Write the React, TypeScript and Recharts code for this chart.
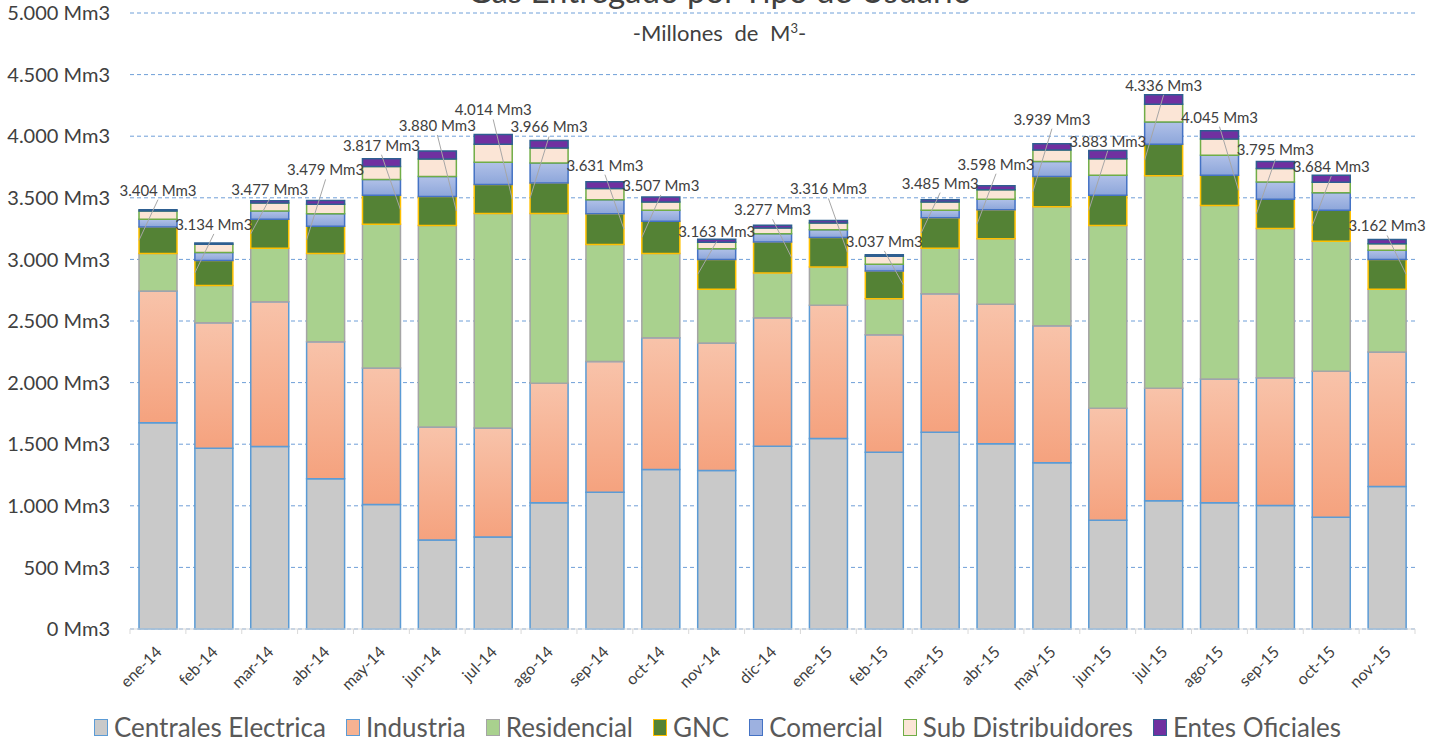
import { BarChart, Bar, XAxis, YAxis, CartesianGrid, Legend, LabelList } from 'recharts'

const months = [
  'ene-14', 'feb-14', 'mar-14', 'abr-14', 'may-14', 'jun-14', 'jul-14', 'ago-14',
  'sep-14', 'oct-14', 'nov-14', 'dic-14', 'ene-15', 'feb-15', 'mar-15', 'abr-15',
  'may-15', 'jun-15', 'jul-15', 'ago-15', 'sep-15', 'oct-15', 'nov-15',
]

// millones de m3 por mes
const centrales = [1674, 1468, 1481, 1219, 1010, 723, 746, 1025, 1110, 1294, 1286, 1484, 1546, 1435, 1598, 1503, 1350, 883, 1042, 1025, 1002, 907, 1156]
const industria = [1069, 1018, 1176, 1113, 1109, 917, 885, 969, 1062, 1070, 1035, 1043, 1081, 953, 1124, 1132, 1112, 908, 912, 1004, 1037, 1186, 1092]
const residencial = [304, 303, 433, 715, 1167, 1635, 1742, 1379, 948, 683, 436, 362, 311, 293, 368, 533, 966, 1484, 1724, 1408, 1211, 1054, 509]
const gnc = [216, 203, 235, 222, 235, 235, 235, 247, 251, 262, 243, 252, 239, 225, 249, 236, 244, 246, 256, 247, 238, 252, 243]
const comercial = [62, 65, 68, 102, 128, 162, 180, 163, 114, 90, 87, 68, 64, 54, 60, 84, 122, 163, 182, 162, 141, 143, 74]
const subDistribuidores = [68, 65, 65, 76, 105, 143, 146, 122, 90, 67, 52, 46, 55, 65, 67, 78, 93, 133, 143, 131, 108, 84, 54]
const entes = [11, 12, 19, 32, 63, 65, 80, 61, 56, 41, 24, 22, 20, 12, 19, 32, 52, 66, 77, 68, 58, 58, 34]
const totals = [3404, 3134, 3477, 3479, 3817, 3880, 4014, 3966, 3631, 3507, 3163, 3277, 3316, 3037, 3485, 3598, 3939, 3883, 4336, 4045, 3795, 3684, 3162]

const yTicks = [0, 500, 1000, 1500, 2000, 2500, 3000, 3500, 4000, 4500, 5000]

// label placement (px above bar top) and which side the leader line goes to
const labelLift = [19, 18, 11, 30, 13, 25, 24, 13, 16, 11, 7, 15, 31, 13, 16, 21, 24, 9, 9, 13, 11, 8, 13]
const leaderRight = [4, 5, 6, 8, 11, 12, 13, 19, 22]

const FONT = 'Lato, "Open Sans", sans-serif'

const series = [
  { key: 'centrales', name: 'Centrales Electrica', fill: '#C9C9C9', stroke: '#5B9BD5', css: '#C9C9C9' },
  { key: 'industria', name: 'Industria', fill: 'url(#gradInd)', stroke: '#5B9BD5', css: '#F6B292' },
  { key: 'residencial', name: 'Residencial', fill: '#A9D18E', stroke: '#A5A5A5', css: '#A9D18E' },
  { key: 'gnc', name: 'GNC', fill: '#548235', stroke: '#FFC000', css: '#548235' },
  { key: 'comercial', name: 'Comercial', fill: 'url(#gradCom)', stroke: '#4472C4', css: '#9DB1E0' },
  { key: 'subDistribuidores', name: 'Sub Distribuidores', fill: '#FBE5D6', stroke: '#70AD47', css: '#FBE5D6' },
  { key: 'entes', name: 'Entes Oficiales', fill: '#7030A0', stroke: '#2E5F91', css: '#7030A0' },
]

const data = months.map((month, i) => ({
  month,
  centrales: centrales[i],
  industria: industria[i],
  residencial: residencial[i],
  gnc: gnc[i],
  comercial: comercial[i],
  subDistribuidores: subDistribuidores[i],
  entes: entes[i],
}))

const fmt = (n: number) => String(n).replace(/\B(?=(\d{3})+(?!\d))/g, '.')

const MonthTick = (props: any) => {
  const { x, y, payload, index } = props
  const half = payload.offset || 27.9
  return (
    <g>
      <line x1={x - half} x2={x - half} y1={y} y2={y + 5} stroke="#D9D9D9" />
      {index === months.length - 1 && (
        <line x1={x + half} x2={x + half} y1={y} y2={y + 5} stroke="#D9D9D9" />
      )}
      <text
        x={x + 5}
        y={y + 24}
        textAnchor="end"
        transform={`rotate(-45 ${x + 5} ${y + 24})`}
        fontSize={16}
        fontFamily={FONT}
        fill="#404040"
      >
        {payload.value}
      </text>
    </g>
  )
}

const TotalLabel = (props: any) => {
  const { x, y, width, height, index } = props
  if (index == null || !height) return null
  const k = height / entes[index]
  const cx = x + width / 2
  const mid = y - labelLift[index]
  const gncMid = y + height + (subDistribuidores[index] + comercial[index] + gnc[index] / 2) * k
  const ex = leaderRight.includes(index) ? x + width : x
  return (
    <g>
      <line x1={cx} y1={mid + 9} x2={ex} y2={gncMid} stroke="#A6A6A6" strokeWidth={1} />
      <text x={cx} y={mid + 5} textAnchor="middle" fontSize={15} fontFamily={FONT} fill="#404040">
        {fmt(totals[index])} Mm3
      </text>
    </g>
  )
}

const renderLegend = () => (
  <div
    style={{
      display: 'flex',
      justifyContent: 'center',
      alignItems: 'center',
      height: 34,
      paddingLeft: 20,
      fontFamily: FONT,
      fontSize: 26,
      color: '#595959',
      gap: 20,
    }}
  >
    {series.map((s) => (
      <span key={s.key} style={{ display: 'flex', alignItems: 'center' }}>
        <span
          style={{
            display: 'inline-block',
            width: 12,
            height: 15,
            background: s.css,
            border: `1.5px solid ${s.stroke}`,
            marginRight: 6,
          }}
        />
        {s.name}
      </span>
    ))}
  </div>
)

export default function App() {
  return (
    <div style={{ position: 'absolute', top: 0, left: 0, width: 1439, height: 744, overflow: 'hidden', background: '#fff' }}>
      <div
        style={{
          position: 'absolute',
          top: -28,
          left: 0,
          width: 1439,
          textAlign: 'center',
          fontFamily: FONT,
          fontSize: 33,
          lineHeight: '36px',
          color: '#404040',
        }}
      >
        Gas Entregado por Tipo de Usuario
      </div>
      <div
        style={{
          position: 'absolute',
          top: 15,
          left: 0,
          width: 1439,
          textAlign: 'center',
          fontFamily: FONT,
          fontSize: 22,
          lineHeight: '26px',
          color: '#404040',
          wordSpacing: 6,
        }}
      >
        -Millones de M<sup style={{ fontSize: 13 }}>3</sup>-
      </div>
      <BarChart
        width={1439}
        height={744}
        data={data}
        margin={{ top: 13, right: 24, left: 0, bottom: 0 }}
        barSize={38}
      >
        <defs>
          <linearGradient id="gradInd" x1="0" y1="0" x2="0" y2="1">
            <stop offset="0%" stopColor="#F8C3AA" />
            <stop offset="100%" stopColor="#F5A27E" />
          </linearGradient>
          <linearGradient id="gradCom" x1="0" y1="0" x2="0" y2="1">
            <stop offset="0%" stopColor="#B1C1E8" />
            <stop offset="100%" stopColor="#8DA6DA" />
          </linearGradient>
        </defs>
        <CartesianGrid vertical={false} stroke="#6F9FD8" strokeDasharray="4 3" />
        <XAxis
          dataKey="month"
          interval={0}
          height={81}
          tickSize={0}
          tickMargin={0}
          tickLine={false}
          axisLine={{ stroke: '#D9D9D9' }}
          tick={<MonthTick />}
        />
        <YAxis
          width={130}
          domain={[0, 5000]}
          ticks={yTicks}
          interval={0}
          axisLine={false}
          tickLine={false}
          tickMargin={14}
          tickFormatter={(v) => `${fmt(v)} Mm3`}
          tick={{ fontSize: 20, fontFamily: FONT, fill: '#404040' }}
        />
        <Legend verticalAlign="bottom" content={renderLegend} />
        {series.map((s) => (
          <Bar
            key={s.key}
            dataKey={s.key}
            name={s.name}
            stackId="a"
            fill={s.fill}
            stroke={s.stroke}
            strokeWidth={1.5}
            isAnimationActive={false}
          >
            {s.key === 'entes' && <LabelList dataKey="entes" content={<TotalLabel />} />}
          </Bar>
        ))}
      </BarChart>
    </div>
  )
}
